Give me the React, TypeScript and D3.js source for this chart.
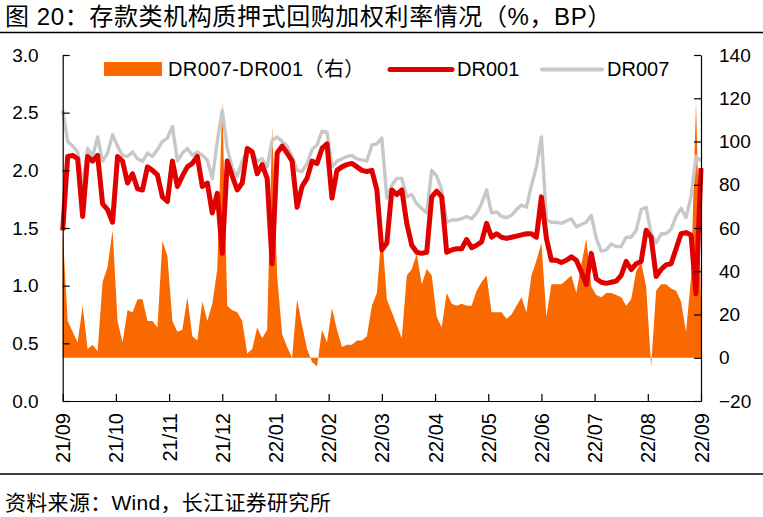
import { useEffect, useRef } from "react"
import * as d3 from "d3"

// month tick labels (yy/mm), evenly spaced along the axis
const months = ["21/09", "21/10", "21/11", "21/12", "22/01", "22/02", "22/03", "22/04", "22/05", "22/06", "22/07", "22/08", "22/09"]

// DR001, %, sampled across the year
const dr001 = [
  1.48, 2.12, 2.13, 2.10, 1.60, 2.12, 2.08, 2.13, 1.71, 1.66,
  1.55, 2.12, 2.08, 1.89, 1.97, 1.84, 1.83, 2.03, 2.00, 1.96,
  1.77, 1.73, 2.08, 1.86, 1.95, 2.03, 2.06, 2.12, 1.86, 1.89,
  1.63, 1.80, 1.28,
  2.08, 1.95, 1.83, 1.89, 2.19, 2.16, 1.97, 2.05, 1.93, 1.19,
  2.15, 2.21, 2.15, 2.08, 1.68, 1.86, 1.93, 2.08, 2.06, 2.19,
  2.23, 1.76, 2.00, 2.03, 2.05, 2.06, 2.03, 2.00, 1.99, 2.00,
  1.83, 1.31,
  1.37, 1.83, 1.79, 1.83, 1.54, 1.35, 1.29, 1.28, 1.29, 1.77,
  1.82, 1.77, 1.29, 1.31, 1.32, 1.32, 1.40, 1.33, 1.35, 1.38,
  1.54, 1.42, 1.45, 1.42, 1.41, 1.42, 1.43, 1.44, 1.45, 1.45,
  1.42, 1.77,
  1.41, 1.22, 1.22, 1.20, 1.22, 1.25, 1.22, 1.12, 1.01, 1.28,
  1.06, 1.03, 1.02, 1.03, 1.04, 1.09, 1.21, 1.14, 1.19, 1.21,
  1.48, 1.42, 1.08, 1.14, 1.18, 1.19, 1.32, 1.45, 1.46, 1.44,
  0.93, 2.02,
]

// DR007, %
const dr007 = [
  2.52, 2.25, 2.21, 2.16, 1.86, 2.19, 2.12, 2.29, 2.08, 2.15,
  2.31, 2.21, 2.13, 2.12, 2.16, 2.10, 2.08, 2.15, 2.12, 2.18,
  2.25, 2.28, 2.38, 2.08, 2.15, 2.19, 2.13, 2.16, 2.13, 2.09,
  1.93, 2.25, 2.52,
  2.19, 2.02, 1.95, 2.08, 2.16, 2.16, 2.08, 2.10, 2.03, 2.26,
  2.29, 2.25, 2.21, 2.12, 2.00, 1.99, 2.06, 2.18, 2.22, 2.34,
  2.33, 2.03, 2.08, 2.10, 2.12, 2.13, 2.10, 2.09, 2.08, 2.22,
  2.23, 2.28,
  1.76, 1.87, 1.93, 1.93, 1.77, 1.79, 1.71, 1.67, 1.63, 2.00,
  1.95, 1.83, 1.55, 1.57, 1.57, 1.58, 1.60, 1.58, 1.63, 1.71,
  1.83, 1.63, 1.64, 1.60, 1.59, 1.61, 1.66, 1.70, 1.68, 1.87,
  2.03, 2.29,
  1.57, 1.55, 1.55, 1.54, 1.56, 1.58, 1.51, 1.53, 1.55, 1.61,
  1.41, 1.30, 1.31, 1.36, 1.34, 1.34, 1.42, 1.42, 1.48, 1.66,
  1.68, 1.45, 1.37, 1.45, 1.45, 1.49, 1.60, 1.67, 1.59, 1.77,
  2.12, 2.08,
]

// DR007-DR001, BP (right axis)
const spread = [
  58, 17, 12, 7, 24, 4, 6, 3, 35, 42,
  59, 17, 7, 22, 21, 27, 27, 17, 17, 14,
  54, 47, 17, 12, 13, 28, 10, 8, 26, 17,
  25, 41, 119,
  24, 22, 21, 17, 2, 4, 14, 9, 13, 107,
  38, 11, 5, 0, 27, 15, 4, -2, -4, 13,
  7, 23, 13, 5, 6, 6, 8, 8, 10, 24,
  30, 59,
  27, 21, 15, 9, 38, 41, 48, 34, 41, 38,
  19, 14, 30, 25, 24, 25, 24, 24, 31, 35,
  38, 21, 21, 21, 18, 20, 24, 28, 21, 38,
  45, 53,
  19, 34, 34, 34, 36, 38, 30, 43, 55, 33,
  29, 28, 30, 30, 29, 28, 24, 27, 40, 44,
  33, -4, 31, 34, 34, 32, 31, 26, 12, 37,
  118, 28,
]

const leftTicks = [0, 0.5, 1, 1.5, 2, 2.5, 3]
const rightTicks = [-20, 0, 20, 40, 60, 80, 100, 120, 140]
const legendLabels = ["DR007-DR001（右）", "DR001", "DR007"]

const ORANGE = "#fa6800"
const RED = "#e00000"
const GRAY = "#c8c8c8"
const FONT = "'Liberation Sans', Arial, 'Noto Sans CJK SC', sans-serif"

export default function App() {
  const svgRef = useRef<SVGSVGElement>(null)

  useEffect(() => {
    if (!svgRef.current) return
    const width = 763
    const height = 517
    const plot = { left: 62.7, right: 701, top: 55, bottom: 401 }

    const svg = d3.select(svgRef.current)
    svg.selectAll("*").remove()
    svg.attr("width", width).attr("height", height)

    const n = dr001.length
    const x = d3.scaleLinear().domain([0, n - 1]).range([plot.left, plot.right])
    const xMonth = d3.scaleLinear().domain([0, months.length - 1]).range([plot.left, plot.right])
    const yL = d3.scaleLinear().domain([0, 3]).range([plot.bottom, plot.top])
    const yR = d3.scaleLinear().domain([-20, 140]).range([plot.bottom, plot.top])

    // title + rules
    svg.append("text")
      .attr("x", 5).attr("y", 25)
      .style("font-family", FONT).style("font-size", "24px").style("letter-spacing", "0.6px")
      .text("图 20：存款类机构质押式回购加权利率情况（%，BP）")
    svg.append("line").attr("x1", 0).attr("x2", width).attr("y1", 32.5).attr("y2", 32.5)
      .attr("stroke", "#000").attr("stroke-width", 1.5)
    svg.append("line").attr("x1", 0).attr("x2", width).attr("y1", 474).attr("y2", 474)
      .attr("stroke", "#000").attr("stroke-width", 1.5)
    svg.append("text")
      .attr("x", 5).attr("y", 510)
      .style("font-family", FONT).style("font-size", "21px").style("letter-spacing", "0.3px")
      .text("资料来源：Wind，长江证券研究所")

    // spread area (right axis)
    const area = d3.area<number>()
      .x((_, i) => x(i))
      .y0(yR(0))
      .y1((d) => yR(d))
    svg.append("path").datum(spread).attr("d", area).attr("fill", ORANGE)

    const line = d3.line<number>().x((_, i) => x(i)).y((d) => yL(d))
    svg.append("path").datum(dr007).attr("d", line)
      .attr("fill", "none").attr("stroke", GRAY).attr("stroke-width", 3.4)
      .attr("stroke-linejoin", "round")
    svg.append("path").datum(dr001).attr("d", line)
      .attr("fill", "none").attr("stroke", RED).attr("stroke-width", 5)
      .attr("stroke-linejoin", "round")

    // axes
    const styleAxis = (g: d3.Selection<SVGGElement, unknown, null, undefined>) => {
      g.selectAll("path, line").attr("stroke", "#000").attr("stroke-width", 1.2)
      g.selectAll("text").attr("fill", "#000").style("font-family", FONT).style("font-size", "19px")
    }

    svg.append("g")
      .attr("transform", `translate(${plot.left},0)`)
      .call(d3.axisLeft(yL).tickValues(leftTicks).tickFormat(d3.format(".1f")).tickSize(-7).tickSizeOuter(0).tickPadding(24))
      .call(styleAxis)

    svg.append("g")
      .attr("transform", `translate(${plot.right},0)`)
      .call(d3.axisRight(yR).tickValues(rightTicks).tickFormat(d3.format("d")).tickSize(-7).tickSizeOuter(0).tickPadding(18))
      .call(styleAxis)

    const xAxis = svg.append("g")
      .attr("transform", `translate(0,${plot.bottom})`)
      .call(d3.axisBottom(xMonth).tickValues(d3.range(months.length)).tickFormat((d) => months[d as number]).tickSize(-7).tickSizeOuter(0))
      .call(styleAxis)
    xAxis.selectAll("text")
      .attr("transform", "rotate(-90)")
      .attr("x", -12).attr("y", 0).attr("dy", "0.35em")
      .style("text-anchor", "end").style("font-size", "20px")

    // legend
    const lg = svg.append("g").style("font-family", FONT).style("font-size", "20px")
    lg.append("rect").attr("x", 104).attr("y", 62).attr("width", 58).attr("height", 14).attr("fill", ORANGE)
    lg.append("text").attr("x", 168).attr("y", 76).style("letter-spacing", "0.4px").text(legendLabels[0])
    lg.append("line").attr("x1", 390).attr("x2", 452).attr("y1", 69.5).attr("y2", 69.5)
      .attr("stroke", RED).attr("stroke-width", 5).attr("stroke-linecap", "round")
    lg.append("text").attr("x", 457).attr("y", 76).text(legendLabels[1])
    lg.append("line").attr("x1", 542).attr("x2", 602).attr("y1", 69.5).attr("y2", 69.5)
      .attr("stroke", GRAY).attr("stroke-width", 4).attr("stroke-linecap", "round")
    lg.append("text").attr("x", 607).attr("y", 76).text(legendLabels[2])
  }, [])

  return (
    <svg ref={svgRef} style={{ position: "absolute", left: 0, top: 0, display: "block", background: "#fff" }} />
  )
}
